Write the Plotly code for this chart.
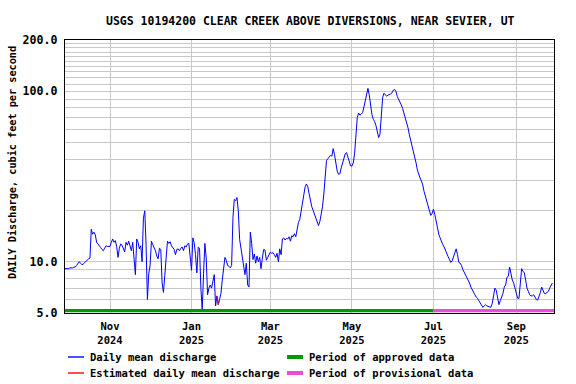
import plotly.graph_objects as go
import pandas as pd

# ---------------- data (daily mean discharge, cfs) ----------------
start_date = "2024-09-28"
sep_2024 = [9.1, 9.1, 9.1]
oct_2024 = [9.1, 9.2, 9.2, 9.2, 9.3, 9.3, 9.5, 9.8, 10.0, 9.8,
            9.6, 9.7, 9.9, 10.1, 10.3, 10.4, 10.5, 15.5, 14.5, 14.9,
            14.4, 13.0, 12.7, 12.3, 12.1, 11.8, 11.6, 12.0, 12.4, 12.3, 12.3]
nov_2024 = [12.3, 13.0, 13.6, 13.0, 13.3, 12.3, 10.6, 12.0, 12.7, 12.5,
            12.0, 11.4, 13.0, 12.5, 13.2, 12.5, 11.6, 13.0, 10.7, 8.4,
            13.6, 13.0, 11.9, 12.4, 10.0, 18.0, 19.9, 12.5, 6.0, 8.5]
dec_2024 = [9.5, 13.2, 12.6, 12.2, 11.6, 10.8, 10.4, 12.0, 11.8, 7.5,
            6.6, 8.3, 11.2, 13.2, 12.8, 13.1, 12.4, 12.0, 11.8, 11.0,
            11.8, 11.9, 11.6, 12.0, 12.2, 11.6, 12.4, 12.2, 12.7, 12.8, 10.2]
jan_2025 = [8.9, 13.8, 12.9, 11.0, 8.6, 12.2, 12.0, 7.0, 5.2, 8.5,
            12.8, 10.5, 6.4, 7.0, 7.3, 7.0, 7.7, 8.4, 5.5, 6.3,
            5.6, 6.0, 6.5, 7.8, 9.0, 10.6, 10.2, 9.5, 9.4, 9.2, 9.5]
feb_2025 = [18.2, 23.2, 22.8, 23.8, 19.9, 13.5, 12.0, 11.0, 9.8, 8.4,
            9.8, 7.3, 7.1, 14.9, 12.8, 10.3, 11.1, 9.8, 10.8, 10.0,
            10.6, 9.1, 10.5, 11.8, 11.7, 10.2, 10.6, 11.1]
mar_2025 = [11.4, 11.2, 11.3, 11.0, 10.6, 11.2, 10.0, 11.9, 11.0, 13.6,
            13.8, 13.4, 13.7, 13.6, 14.0, 13.2, 14.2, 14.0, 14.6, 14.0,
            15.9, 17.0, 17.7, 20.0, 22.8, 25.5, 27.5, 28.6, 27.5, 25.0, 22.4]
apr_2025 = [21.0, 20.0, 19.0, 18.2, 17.0, 16.3, 17.2, 19.0, 21.0, 25.0,
            33.5, 39.3, 40.2, 41.5, 42.1, 41.6, 46.1, 42.5, 37.5, 34.0,
            32.6, 32.8, 35.5, 38.0, 40.5, 43.0, 43.7, 41.0, 38.0, 36.5]
may_2025 = [36.4, 38.0, 43.0, 53.0, 70.0, 74.6, 72.5, 73.5, 75.0, 81.0,
            88.0, 100.0, 104.0, 95.0, 80.0, 73.0, 68.5, 66.5, 63.0, 56.5,
            53.5, 56.0, 72.0, 92.0, 97.5, 95.0, 93.5, 95.0, 95.5, 96.5, 98.0]
jun_2025 = [101.6, 102.6, 99.5, 93.0, 90.0, 87.5, 83.0, 79.0, 74.0, 70.0,
            66.0, 61.0, 55.5, 51.8, 48.0, 44.0, 40.5, 38.0, 34.5, 32.3,
            31.0, 29.8, 28.2, 25.8, 24.0, 22.6, 21.2, 19.8, 18.7, 19.2]
jul_2025 = [20.3, 19.0, 17.4, 15.6, 14.5, 13.8, 13.1, 12.6, 12.2, 11.6,
            11.2, 10.7, 10.3, 9.9, 10.1, 10.6, 11.2, 11.9, 11.0, 9.9,
            9.8, 9.5, 9.0, 8.7, 8.3, 8.0, 7.8, 7.5, 7.1, 6.8, 6.6]
aug_2025 = [6.4, 6.2, 6.1, 5.9, 5.7, 5.5, 5.4, 5.5, 5.6, 5.5,
            5.45, 5.4, 5.4, 5.7, 6.2, 7.0, 6.8, 6.0, 5.6, 5.9,
            6.2, 6.5, 7.1, 7.3, 8.1, 8.2, 9.3, 8.3, 7.8, 7.5, 7.0]
sep_2025 = [6.3, 6.1, 6.1, 7.4, 9.1, 8.8, 8.6, 7.8, 7.0, 6.7,
            6.4, 6.3, 6.3, 6.4, 6.2, 6.0, 5.95, 6.2, 6.6, 7.1,
            6.7, 6.5, 6.5, 6.6, 6.7, 7.0, 7.3, 7.5]

est_dates = ["2025-01-20", "2025-01-21", "2025-01-22"]
est_values = [6.3, 5.6, 6.0]

# period of approved / provisional data: boundaries
approved_period = ["2024-09-28", "2025-07-01"]
provisional_period = ["2025-07-01", "2025-09-29 05:00"]

x_range = ["2024-09-28 08:00", "2025-09-29 05:00"]
x_tick_dates = ["2024-11-01", "2025-01-01", "2025-03-01", "2025-05-01", "2025-07-01", "2025-09-01"]
x_tick_text = ["Nov<br>2024", "Jan<br>2025", "Mar<br>2025", "May<br>2025", "Jul<br>2025", "Sep<br>2025"]

y_tick_vals = [5, 6, 7, 8, 9, 10, 20, 30, 40, 50, 60, 70, 80, 90, 100,
               110, 120, 130, 140, 150, 160, 170, 180, 190, 200]
y_tick_text = ["5.0", "", "", "", "", "10.0", "", "", "", "", "", "", "", "", "100.0",
               "", "", "", "", "", "", "", "", "", "200.0"]

title_text = "USGS 10194200 CLEAR CREEK ABOVE DIVERSIONS, NEAR SEVIER, UT"
y_title = "DAILY Discharge, cubic feet per second"
legend_labels = ["Daily mean discharge", "Estimated daily mean discharge",
                 "Period of approved data", "Period of provisional data"]

# ---------------- build ----------------
values = (sep_2024 + oct_2024 + nov_2024 + dec_2024 + jan_2025 + feb_2025 + mar_2025
          + apr_2025 + may_2025 + jun_2025 + jul_2025 + aug_2025 + sep_2025)
dates = pd.date_range(start_date, periods=len(values), freq="D")

FONT = "DejaVu Sans Mono"
BLUE = "#0000ff"
RED = "#ff0000"
GREEN = "#009a00"
PINK = "#ee48dd"

fig = go.Figure()
fig.add_trace(go.Scatter(x=dates, y=values, mode="lines",
                         line=dict(color=BLUE, width=1), showlegend=False,
                         hoverinfo="skip"))
fig.add_trace(go.Scatter(x=est_dates, y=est_values, mode="lines",
                         line=dict(color=RED, width=1), showlegend=False,
                         hoverinfo="skip"))

# period bars along the bottom of the plot
for (p0, p1), col in ((approved_period, GREEN), (provisional_period, PINK)):
    fig.add_shape(type="rect", xref="x", yref="paper", x0=p0, x1=p1,
                  y0=0.003, y1=0.015, fillcolor=col, line=dict(width=0),
                  layer="above")

# ---------------- manual legend ----------------
L, R, T, B = 65, 22, 40, 71
W, H = 576 - L - R, 384 - T - B


def px_x(px):
    return (px - L) / W


def px_y(py):
    return (384 - B - py) / H


legend_font = dict(family=FONT, size=10.5, color="black")
rows = [357, 373]
# column 1: line samples
for py, col, lab in ((rows[0], BLUE, legend_labels[0]), (rows[1], RED, legend_labels[1])):
    fig.add_shape(type="line", xref="paper", yref="paper",
                  x0=px_x(68), x1=px_x(84), y0=px_y(py), y1=px_y(py),
                  line=dict(color=col, width=1.4))
    fig.add_annotation(xref="paper", yref="paper", x=px_x(88), y=px_y(py),
                       text="<b>" + lab + "</b>", showarrow=False,
                       xanchor="left", yanchor="middle", font=legend_font)
# column 2: bars
for py, col, lab in ((rows[0], GREEN, legend_labels[2]), (rows[1], PINK, legend_labels[3])):
    fig.add_shape(type="rect", xref="paper", yref="paper",
                  x0=px_x(287), x1=px_x(303), y0=px_y(py + 2), y1=px_y(py - 2),
                  fillcolor=col, line=dict(width=0))
    fig.add_annotation(xref="paper", yref="paper", x=px_x(307), y=px_y(py),
                       text="<b>" + lab + "</b>", showarrow=False,
                       xanchor="left", yanchor="middle", font=legend_font)

# title and y-axis title
fig.add_annotation(xref="paper", yref="paper", x=px_x(310), y=px_y(20.5),
                   text="<b>" + title_text + "</b>", showarrow=False,
                   xanchor="center", yanchor="middle",
                   font=dict(family=FONT, size=11.5, color="black"))
fig.add_annotation(xref="paper", yref="paper", x=px_x(12), y=px_y(163),
                   text="<b>" + y_title + "</b>", showarrow=False, textangle=-90,
                   xanchor="center", yanchor="middle",
                   font=dict(family=FONT, size=10.2, color="black"))

GRID = "#c8c8c8"
fig.update_xaxes(type="date", range=x_range, tickvals=x_tick_dates,
                 ticktext=["<b>%s</b>" % t for t in x_tick_text],
                 showgrid=True, gridcolor=GRID, gridwidth=1,
                 showline=True, linecolor="black", linewidth=1.3, mirror=True,
                 ticks="", zeroline=False, ticklabelstandoff=3,
                 tickfont=dict(family=FONT, size=10.5, color="black"))
fig.update_yaxes(type="log", range=[0.69897, 2.30103],
                 tickvals=y_tick_vals, ticktext=["<b>%s</b>" % t if t else "" for t in y_tick_text],
                 showgrid=True, gridcolor=GRID, gridwidth=1,
                 showline=True, linecolor="black", linewidth=1.3, mirror=True,
                 ticks="", zeroline=False, ticklabelstandoff=4,
                 tickfont=dict(family=FONT, size=11.6, color="black"))

fig.update_layout(width=576, height=384, margin=dict(l=L, r=R, t=T, b=B),
                  paper_bgcolor="white", plot_bgcolor="white",
                  showlegend=False)

fig.write_html("out.html", post_script="document.body.style.margin='0';",
               config={"displayModeBar": False, "staticPlot": True})
